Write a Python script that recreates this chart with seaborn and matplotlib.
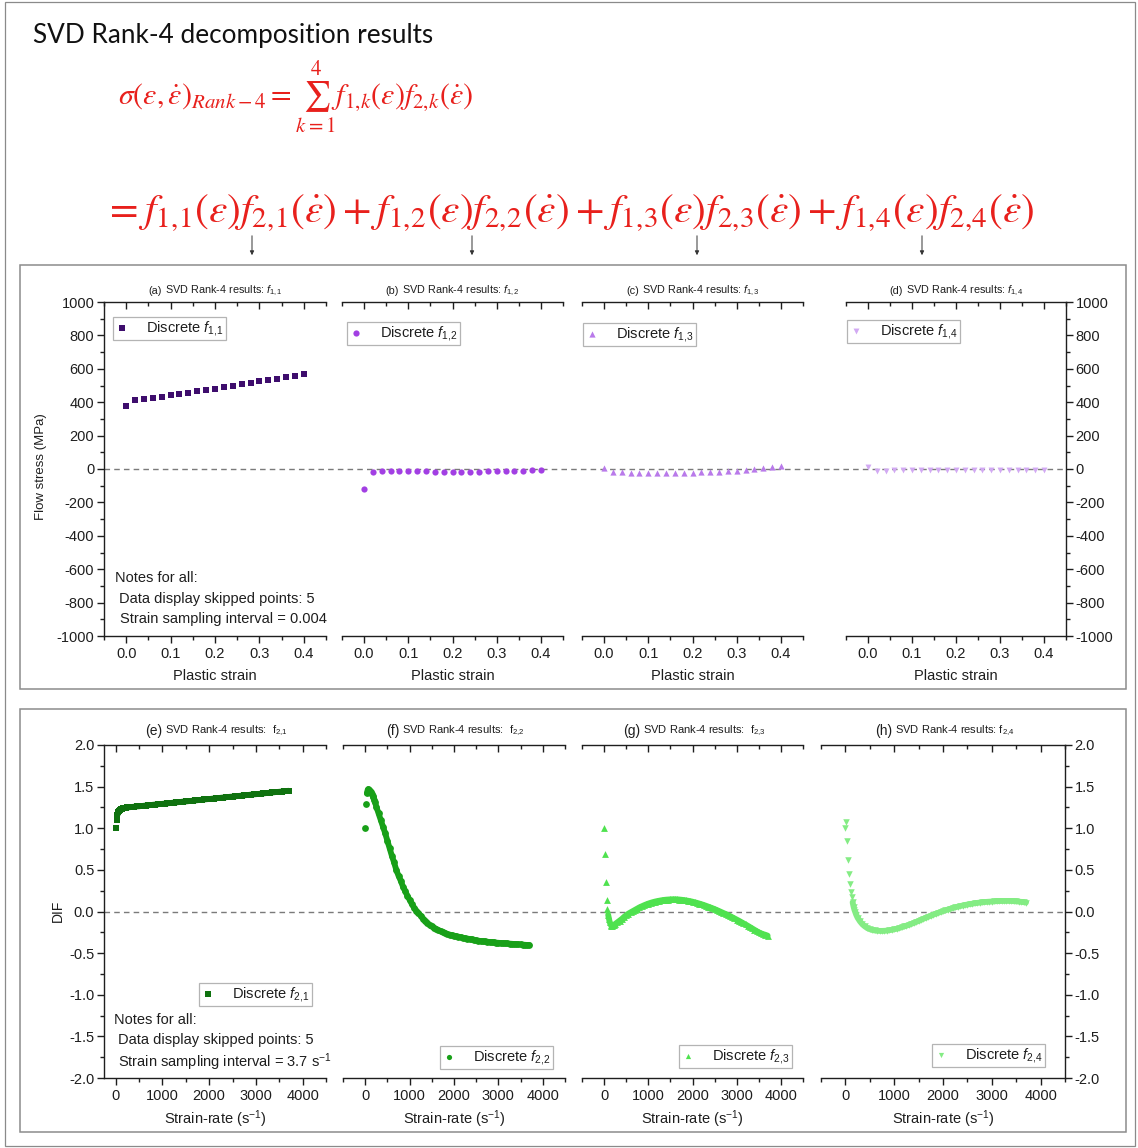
import numpy as np
import pandas as pd
import matplotlib
matplotlib.use("Agg")
import matplotlib.pyplot as plt
from matplotlib.ticker import MultipleLocator, FormatStrFormatter
from matplotlib.patches import Rectangle, FancyArrowPatch
import seaborn as sns

# ---------------- data ----------------
strain = [0.00, 0.02, 0.04, 0.06, 0.08, 0.10, 0.12, 0.14, 0.16, 0.18, 0.20,
          0.22, 0.24, 0.26, 0.28, 0.30, 0.32, 0.34, 0.36, 0.38, 0.40]
f11 = [380, 414, 420, 426, 434, 442, 450, 458, 466, 474, 482,
       490, 498, 506, 514, 524, 532, 540, 550, 558, 568]
f12 = [-118, -16, -14, -13, -13, -13, -14, -14, -15, -15, -16,
       -16, -15, -15, -14, -13, -12, -11, -9, -7, -5]
f13 = [6, -16, -19, -21, -22, -23, -23, -23, -23, -22, -21,
       -20, -18, -16, -13, -10, -6, -1, 5, 11, 17]
f14 = [12, -9, -9, -8, -7, -6, -5, -5, -4, -4, -4,
       -4, -4, -4, -4, -4, -5, -5, -6, -6, -7]

rate = [0, 18.5, 37, 55.5, 74, 92.5, 111, 129.5, 148, 166.5, 185, 203.5, 222,
        250, 300, 350, 400, 450, 500, 550, 600, 650, 700,
        750, 800, 850, 900, 950, 1000, 1050, 1100, 1150, 1200,
        1250, 1300, 1350, 1400, 1450, 1500, 1550, 1600, 1650, 1700,
        1750, 1800, 1850, 1900, 1950, 2000, 2050, 2100, 2150, 2200,
        2250, 2300, 2350, 2400, 2450, 2500, 2550, 2600, 2650, 2700,
        2750, 2800, 2850, 2900, 2950, 3000, 3050, 3100, 3150, 3200,
        3250, 3300, 3350, 3400, 3450, 3500, 3550, 3600, 3650, 3700]
f21 = [1.00, 1.10, 1.16, 1.19, 1.21, 1.225, 1.232, 1.237, 1.240, 1.243, 1.245, 1.247, 1.248,
       1.250, 1.253, 1.256, 1.259, 1.262, 1.264, 1.267, 1.270, 1.273, 1.276,
       1.279, 1.282, 1.285, 1.288, 1.291, 1.293, 1.296, 1.299, 1.302, 1.305,
       1.308, 1.311, 1.314, 1.317, 1.320, 1.322, 1.325, 1.328, 1.331, 1.334,
       1.337, 1.340, 1.343, 1.346, 1.349, 1.351, 1.354, 1.357, 1.360, 1.363,
       1.366, 1.369, 1.372, 1.375, 1.378, 1.380, 1.383, 1.386, 1.389, 1.392,
       1.395, 1.398, 1.401, 1.404, 1.407, 1.409, 1.412, 1.415, 1.418, 1.421,
       1.424, 1.427, 1.430, 1.433, 1.436, 1.438, 1.441, 1.444, 1.447, 1.450]
f22 = [1.00, 1.29, 1.42, 1.46, 1.47, 1.465, 1.45, 1.43, 1.41, 1.39, 1.37, 1.34, 1.31,
       1.26, 1.18, 1.10, 1.02, 0.94, 0.85, 0.76, 0.67, 0.59, 0.50,
       0.43, 0.37, 0.30, 0.245, 0.19, 0.14, 0.09, 0.045, 0.01, -0.02,
       -0.05, -0.085, -0.11, -0.135, -0.165, -0.18, -0.195, -0.21, -0.225, -0.237,
       -0.248, -0.26, -0.27, -0.277, -0.284, -0.29, -0.296, -0.302, -0.308, -0.315,
       -0.32, -0.325, -0.33, -0.335, -0.34, -0.345, -0.35, -0.355, -0.358, -0.36,
       -0.363, -0.366, -0.369, -0.372, -0.374, -0.376, -0.378, -0.38, -0.382, -0.384,
       -0.386, -0.388, -0.39, -0.392, -0.394, -0.396, -0.398, -0.40, -0.402, -0.404]
f23 = [1.00, 0.69, 0.36, 0.14, 0.03, -0.04, -0.09, -0.13, -0.16, -0.17, -0.17, -0.165, -0.16,
       -0.15, -0.13, -0.11, -0.09, -0.065, -0.045, -0.025, -0.01, 0.005, 0.02,
       0.035, 0.05, 0.062, 0.074, 0.085, 0.095, 0.104, 0.112, 0.119, 0.125,
       0.13, 0.135, 0.139, 0.142, 0.144, 0.146, 0.147, 0.147, 0.146, 0.144,
       0.141, 0.138, 0.134, 0.129, 0.124, 0.118, 0.111, 0.104, 0.096, 0.088,
       0.079, 0.07, 0.06, 0.05, 0.04, 0.029, 0.018, 0.006, -0.006, -0.018,
       -0.03, -0.043, -0.056, -0.069, -0.083, -0.097, -0.111, -0.126, -0.141, -0.156,
       -0.171, -0.187, -0.203, -0.219, -0.235, -0.25, -0.262, -0.272, -0.28, -0.29]
f24 = [1.00, 1.07, 0.85, 0.62, 0.45, 0.33, 0.24, 0.17, 0.11, 0.06, 0.02, -0.01, -0.04,
       -0.075, -0.12, -0.155, -0.18, -0.2, -0.213, -0.222, -0.228, -0.231, -0.233,
       -0.233, -0.232, -0.229, -0.225, -0.22, -0.214, -0.207, -0.199, -0.19, -0.18,
       -0.17, -0.16, -0.149, -0.137, -0.125, -0.113, -0.1, -0.087, -0.074, -0.062,
       -0.05, -0.038, -0.027, -0.016, -0.006, 0.004, 0.014, 0.024, 0.033, 0.042,
       0.05, 0.058, 0.065, 0.072, 0.078, 0.084, 0.089, 0.094, 0.099, 0.103,
       0.107, 0.11, 0.113, 0.116, 0.118, 0.12, 0.122, 0.124, 0.125, 0.126,
       0.127, 0.127, 0.127, 0.126, 0.124, 0.122, 0.119, 0.116, 0.112, 0.108]

panel_ids_top = ["(a)", "(b)", "(c)", "(d)"]
panel_ids_bot = ["(e)", "(f)", "(g)", "(h)"]
top_titles = [r" SVD Rank-4 results: $f_{1,\!1}$", r" SVD Rank-4 results: $f_{1,\!2}$",
              r" SVD Rank-4 results: $f_{1,\!3}$", r" SVD Rank-4 results: $f_{1,\!4}$"]
bot_titles = [r" SVD Rank-4 results:  f$_{2,\!1}$", r" SVD Rank-4 results:  f$_{2,\!2}$",
              r" SVD Rank-4 results:  f$_{2,\!3}$", r" SVD Rank-4 results: f$_{2,\!4}$"]
top_labels = [r"Discrete $f_{1,\!1}$", r"Discrete $f_{1,\!2}$", r"Discrete $f_{1,\!3}$", r"Discrete $f_{1,\!4}$"]
bot_labels = [r"Discrete $f_{2,\!1}$", r"Discrete $f_{2,\!2}$", r"Discrete $f_{2,\!3}$", r"Discrete $f_{2,\!4}$"]

# ---------------- style ----------------
sns.set_theme(style="ticks")
plt.rcParams['font.family'] = ['Liberation Sans', 'DejaVu Sans']
plt.rcParams['axes.unicode_minus'] = False
plt.rcParams['mathtext.fontset'] = 'custom'
plt.rcParams['mathtext.rm'] = 'Liberation Sans'
plt.rcParams['mathtext.it'] = 'Liberation Sans:italic'
plt.rcParams['mathtext.bf'] = 'Liberation Sans:bold'

W, H = 1138, 1148
fig = plt.figure(figsize=(W / 100, H / 100), dpi=100)
fig.patch.set_facecolor('white')


def fx(x):
    return x / W


def fy(y):
    return 1 - y / H


def prect(x0, y0, x1, y1):
    return [x0 / W, 1 - y1 / H, (x1 - x0) / W, (y1 - y0) / H]


def box(x0, y0, x1, y1, color='#8c8c8c', lw=1.1):
    fig.add_artist(Rectangle((fx(x0), fy(y1)), (x1 - x0) / W, (y1 - y0) / H,
                             transform=fig.transFigure, fill=False,
                             edgecolor=color, linewidth=lw))


INK = '#1e1e1e'
RED = '#e8201c'


def style_axes(ax, side, xlim, xmaj, xmin, ylim, ymaj, ymin, xfmt, yfmt):
    ax.set_facecolor('none')
    ax.set_xlim(xlim)
    ax.set_ylim(ylim)
    ax.xaxis.set_major_locator(MultipleLocator(xmaj))
    ax.xaxis.set_minor_locator(MultipleLocator(xmin))
    ax.yaxis.set_major_locator(MultipleLocator(ymaj))
    ax.yaxis.set_minor_locator(MultipleLocator(ymin))
    ax.xaxis.set_major_formatter(FormatStrFormatter(xfmt))
    ax.yaxis.set_major_formatter(FormatStrFormatter(yfmt))
    for sp in ax.spines.values():
        sp.set_linewidth(1.0)
        sp.set_color(INK)
    ax.spines['top'].set_visible(False)
    ax.spines['left'].set_visible(side == 'left')
    ax.spines['right'].set_visible(side == 'right')
    ax.tick_params(axis='x', which='both', direction='out', bottom=True, top=False,
                   labelsize=10.5, colors=INK, width=1.0, pad=3)
    ax.tick_params(axis='x', which='major', length=5)
    ax.tick_params(axis='x', which='minor', length=3)
    if side == 'left':
        ax.tick_params(axis='y', which='both', left=True, right=False, labelleft=True,
                       labelright=False, direction='out', labelsize=10.5, colors=INK, width=1.0, pad=2)
    elif side == 'right':
        ax.tick_params(axis='y', which='both', left=False, right=True, labelleft=False,
                       labelright=True, direction='out', labelsize=10.5, colors=INK, width=1.0, pad=2)
    else:
        ax.tick_params(axis='y', which='both', left=False, right=False,
                       labelleft=False, labelright=False)
    ax.tick_params(axis='y', which='major', length=5)
    ax.tick_params(axis='y', which='minor', length=3)
    sec = ax.secondary_xaxis('top')
    sec.xaxis.set_major_locator(MultipleLocator(xmaj))
    sec.xaxis.set_minor_locator(MultipleLocator(xmin))
    sec.tick_params(axis='x', which='both', direction='in', labeltop=False,
                    colors=INK, width=1.0)
    sec.tick_params(axis='x', which='major', length=5)
    sec.tick_params(axis='x', which='minor', length=3)
    sec.spines['top'].set_linewidth(1.0)
    sec.spines['top'].set_color(INK)
    ax.set_xlabel('')
    ax.set_ylabel('')


def add_legend(ax, x0, y0):
    leg = ax.legend(loc='upper left', bbox_to_anchor=(fx(x0), fy(y0)),
                    bbox_transform=fig.transFigure, borderaxespad=0, frameon=True,
                    fancybox=False, framealpha=1, edgecolor='#b4b4b4', fontsize=10.5,
                    borderpad=0.15, handlelength=1.0, handletextpad=1.1)
    leg.get_frame().set_linewidth(0.9)
    for t in leg.get_texts():
        t.set_color(INK)


def panel_title(ax, pid, rest, y, size_id, size_rest):
    # centred two-part title: panel id slightly larger than the rest
    bb = ax.get_position()
    xc = (bb.x0 + bb.x1) / 2
    t = fig.text(xc, fy(y), pid + rest, fontsize=size_rest, color='none', ha='center', va='center')
    fig.canvas.draw()
    r = fig.canvas.get_renderer()
    e = t.get_window_extent(r)
    t.remove()
    p = fig.text(e.x0 / fig.bbox.width, fy(y), pid, fontsize=size_id, color=INK, ha='left', va='center')
    e2 = p.get_window_extent(r)
    fig.text(e2.x1 / fig.bbox.width, fy(y), rest, fontsize=size_rest, color=INK, ha='left', va='center')


# ---------------- outer decorations ----------------
box(5, 2, 1135, 1146, color='#8a8a8a', lw=0.9)
box(20, 265, 1126, 689)
box(20, 709, 1126, 1132)

fig.text(fx(33), fy(36), "SVD Rank-4 decomposition results", fontsize=18.8,
         family=['Lato', 'DejaVu Sans'], color='#111111', ha='left', va='center')
fig.text(fx(118), fy(98),
         r"$\sigma(\varepsilon,\dot{\varepsilon})_{Rank-4}=\sum_{k=1}^{4}f_{1,\!k}(\varepsilon)f_{2,\!k}(\dot{\varepsilon})$",
         fontsize=21.5, color=RED, math_fontfamily='stix', ha='left', va='center')
fig.text(fx(104), fy(213),
         r"$=f_{1,\!1}(\varepsilon)f_{2,\!1}(\dot{\varepsilon})+f_{1,\!2}(\varepsilon)f_{2,\!2}(\dot{\varepsilon})"
         r"+f_{1,\!3}(\varepsilon)f_{2,\!3}(\dot{\varepsilon})+f_{1,\!4}(\varepsilon)f_{2,\!4}(\dot{\varepsilon})$",
         fontsize=29.8, color=RED, math_fontfamily='stix', ha='left', va='center')
for ax_x in [252, 472, 697, 922]:
    fig.add_artist(FancyArrowPatch((fx(ax_x), fy(233)), (fx(ax_x), fy(258)),
                                   transform=fig.transFigure, arrowstyle='-|>',
                                   mutation_scale=6, lw=0.7, color='#333333'))

# ---------------- top row ----------------
top_pos = [(104, 302, 326, 636), (342, 302, 563, 636), (582, 302, 803, 636), (846, 302, 1066, 636)]
top_sides = ['left', 'none', 'none', 'right']
top_y = [f11, f12, f13, f14]
top_markers = ['s', 'o', '^', 'v']
top_colors = ['#3e0d6d', '#a23fe3', '#b97aea', '#d2a9f3']
top_sizes = [14, 20, 20, 18]
top_leg = [(113, 317), (347, 322), (583, 323), (847, 320)]

top_axes = []
for i in range(4):
    ax = fig.add_axes(prect(*top_pos[i]))
    sns.scatterplot(x=strain, y=top_y[i], ax=ax, marker=top_markers[i], color=top_colors[i],
                    s=top_sizes[i], linewidth=0, label=top_labels[i], zorder=3)
    style_axes(ax, top_sides[i], (-0.05, 0.45), 0.1, 0.05, (-1000, 1000), 200, 100, '%.1f', '%d')
    ax.set_xlabel("Plastic strain", fontsize=10.5, color=INK, labelpad=6)
    add_legend(ax, *top_leg[i])
    top_axes.append(ax)

top_axes[0].axhline(0, xmin=0, xmax=(1066 - 104) / 222, clip_on=False, color='#7a7a7a',
                    lw=1.0, ls=(0, (4, 3)), zorder=1)
fig.text(fx(41), fy(467), "Flow stress (MPa)", rotation=90, fontsize=9.5, color=INK,
         ha='center', va='center')
fig.text(fx(115), fy(578), "Notes for all:", fontsize=10.5, color=INK, va='center')
fig.text(fx(119), fy(599), "Data display skipped points: 5", fontsize=10.5, color=INK, va='center')
fig.text(fx(120), fy(619), "Strain sampling interval = 0.004", fontsize=10.5, color=INK, va='center')

# ---------------- bottom row ----------------
bot_pos = [(104, 745, 326, 1078), (343, 745, 565, 1078), (582, 745, 803, 1078), (821, 745, 1065, 1078)]
bot_xlims = [(-250, 4500), (-500, 4500), (-500, 4500), (-500, 4500)]
bot_y = [f21, f22, f23, f24]
bot_markers = ['s', 'o', '^', 'v']
bot_colors = ['#0f720f', '#18a018', '#4fe24f', '#84ec84']
bot_sizes = [20, 24, 24, 22]
bot_band_start = [2, 2, 5, 8]   # index where the densely packed markers merge into a band
bot_leg = [(199, 983), (440, 1046), (679, 1045), (932, 1044)]

bot_axes = []
for i in range(4):
    ax = fig.add_axes(prect(*bot_pos[i]))
    k = bot_band_start[i]
    sns.lineplot(x=rate[k:], y=bot_y[i][k:], ax=ax, color=bot_colors[i], lw=4.2,
                 solid_capstyle='round', zorder=2, legend=False)
    sns.scatterplot(x=rate, y=bot_y[i], ax=ax, marker=bot_markers[i], color=bot_colors[i],
                    s=bot_sizes[i], linewidth=0, label=bot_labels[i], zorder=3)
    style_axes(ax, top_sides[i], bot_xlims[i], 1000, 500, (-2.0, 2.0), 0.5, 0.25, '%d', '%.1f')
    ax.set_xlabel("Strain-rate (s$^{-1}$)", fontsize=10.5, color=INK, labelpad=4)
    add_legend(ax, *bot_leg[i])
    for h in ax.get_legend().legend_handles:
        h.set_sizes([14])
    bot_axes.append(ax)

bot_axes[0].axhline(0, xmin=0, xmax=(1065 - 104) / 222, clip_on=False, color='#7a7a7a',
                    lw=1.0, ls=(0, (4, 3)), zorder=1)
fig.text(fx(58), fy(911), "DIF", rotation=90, fontsize=10, color=INK, ha='center', va='center')
fig.text(fx(114), fy(1020), "Notes for all:", fontsize=10.5, color=INK, va='center')
fig.text(fx(118), fy(1040), "Data display skipped points: 5", fontsize=10.5, color=INK, va='center')
fig.text(fx(118), fy(1062), "Strain sampling interval = 3.7 s$^{-1}$", fontsize=10.5, color=INK, va='center')

# panel titles
for i in range(4):
    panel_title(top_axes[i], panel_ids_top[i], top_titles[i], 291, 7.8, 7.8)
    panel_title(bot_axes[i], panel_ids_bot[i], bot_titles[i], 731, 10, 8)

fig.savefig("out.png", dpi=100, facecolor='white')
